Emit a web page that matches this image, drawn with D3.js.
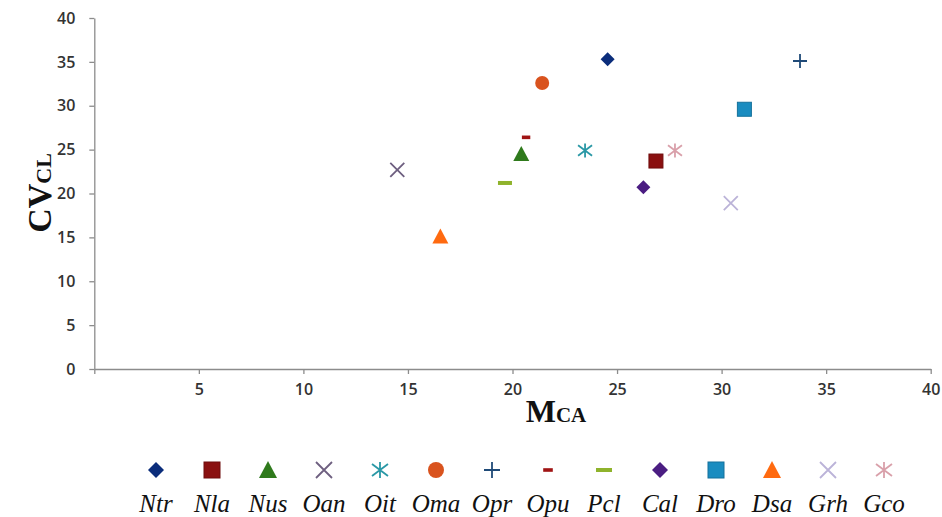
<!DOCTYPE html>
<html>
<head>
<meta charset="utf-8">
<script src="https://cdn.jsdelivr.net/npm/d3@7/dist/d3.min.js"></script>
<style>
html,body{margin:0;padding:0;background:#fff;}
svg{display:block;}
</style>
</head>
<body>
<svg id="chart" width="942" height="517"></svg>
<script>
// ---- data ----
const species = ["Ntr","Nla","Nus","Oan","Oit","Oma","Opr","Opu","Pcl","Cal","Dro","Dsa","Grh","Gco"];
const mcaValues = [24.55, 26.86, 20.42, 14.49, 23.47, 21.42, 33.75, 20.65, 19.64, 26.26, 31.09, 16.55, 30.44, 27.77];
const cvclValues = [35.3, 23.7, 24.5, 22.7, 24.9, 32.6, 35.1, 26.4, 21.2, 20.7, 29.6, 15.1, 18.9, 24.9];
const markerShapes = ["diamond","square","triangle","x","asterisk","circle","plus","dashSmall","dash","diamond","square","triangle","x","asterisk"];
const markerColors = ["#0b2d7b","#8a1010","#2f7a1c","#6e5f80","#2a98a6","#d9531e","#1f4a78","#a01414","#8fb32c","#4b1d82","#1a8cc0","#ff6a10","#bbb3d8","#d9a0aa"];
const xTicks = [0,5,10,15,20,25,30,35,40];
const yTicks = [0,5,10,15,20,25,30,35,40];

const svg = d3.select("#chart");
const x = d3.scaleLinear().domain([0,40]).range([94.3,930.7]);
const y = d3.scaleLinear().domain([0,40]).range([369,18]);

const axisColor = "#8c8c8c";
const tickFont = "'Open Sans', sans-serif";

// x axis
const gx = svg.append("g").attr("transform",`translate(0,${y(0)})`)
  .call(d3.axisBottom(x).tickValues(xTicks).tickSize(5).tickSizeOuter(0).tickPadding(10)
    .tickFormat(d => d === 0 ? "" : d));
// y axis
const gy = svg.append("g").attr("transform",`translate(${x(0)},0)`)
  .call(d3.axisLeft(y).tickValues(yTicks).tickSize(5).tickSizeOuter(0).tickPadding(14));
[gx,gy].forEach(g=>{
  g.attr("font-size",null).attr("font-family",null);
  g.select(".domain").attr("stroke",axisColor).attr("stroke-width",1.3);
  g.selectAll(".tick line").attr("stroke",axisColor).attr("stroke-width",1.3);
  g.selectAll(".tick text").attr("fill","#333").style("font-family",tickFont).style("font-size","16px").style("font-weight","600");
});

// marker drawing
function drawMarker(g, shape, color, s){
  const h = s/2;
  switch(shape){
    case "diamond":
      g.append("path").attr("d",`M0,${-h}L${h},0L0,${h}L${-h},0Z`).attr("fill",color); break;
    case "square":
      g.append("rect").attr("x",-h).attr("y",-h).attr("width",s).attr("height",s).attr("fill",color)
        .attr("stroke",d3.color(color).darker(0.6)).attr("stroke-width",1); break;
    case "triangle":
      g.append("path").attr("d",`M0,${-h-1}L${h+1},${h}L${-h-1},${h}Z`).attr("fill",color); break;
    case "circle":
      g.append("circle").attr("r",h).attr("fill",color); break;
    case "x":
      g.append("path").attr("d",`M${-h},${-h}L${h},${h}M${-h},${h}L${h},${-h}`).attr("stroke",color).attr("stroke-width",1.8).attr("fill","none"); break;
    case "asterisk":
      g.append("path").attr("d",`M${-h},${-h*0.75}L${h},${h*0.75}M${-h},${h*0.75}L${h},${-h*0.75}M0,${-h}L0,${h}`).attr("stroke",color).attr("stroke-width",1.8).attr("fill","none"); break;
    case "plus":
      g.append("path").attr("d",`M${-h},0L${h},0M0,${-h}L0,${h}`).attr("stroke",color).attr("stroke-width",1.8).attr("fill","none"); break;
    case "dash":
      g.append("rect").attr("x",-h).attr("y",-2).attr("width",s).attr("height",4).attr("fill",color); break;
    case "dashSmall":
      g.append("rect").attr("x",-h*0.6).attr("y",-1.8).attr("width",s*0.6).attr("height",3.6).attr("fill",color); break;
  }
}

// points
const pts = species.map((sp,i)=>({sp, mx:mcaValues[i], cv:cvclValues[i], shape:markerShapes[i], color:markerColors[i]}));
pts.forEach(p=>{
  const g = svg.append("g").attr("transform",`translate(${x(p.mx)},${y(p.cv)})`);
  drawMarker(g, p.shape, p.color, 14);
});

// axis titles
const serif = "'Liberation Serif','Times New Roman',serif";
const yt = svg.append("text").attr("transform","translate(51,193) rotate(-90)").attr("text-anchor","middle")
  .style("font-family",serif).style("font-weight","bold").attr("fill","#111");
yt.append("tspan").style("font-size","34px").text("CV");
yt.append("tspan").style("font-size","22px").text("CL");

const xt = svg.append("text").attr("x",556).attr("y",422).attr("text-anchor","middle")
  .style("font-family",serif).style("font-weight","bold").attr("fill","#111");
xt.append("tspan").style("font-size","32px").text("M");
xt.append("tspan").style("font-size","21px").text("CA");

// legend
const legX = d3.scalePoint().domain(species).range([156,884]);
const leg = svg.append("g");
pts.forEach(p=>{
  const g = leg.append("g").attr("transform",`translate(${legX(p.sp)},${470})`);
  drawMarker(g, p.shape, p.color, 16);
  leg.append("text").attr("x",legX(p.sp)).attr("y",512).attr("text-anchor","middle")
    .style("font-family",serif).style("font-style","italic").style("font-size","25px").attr("fill","#111")
    .text(p.sp);
});
</script>
</body>
</html>
